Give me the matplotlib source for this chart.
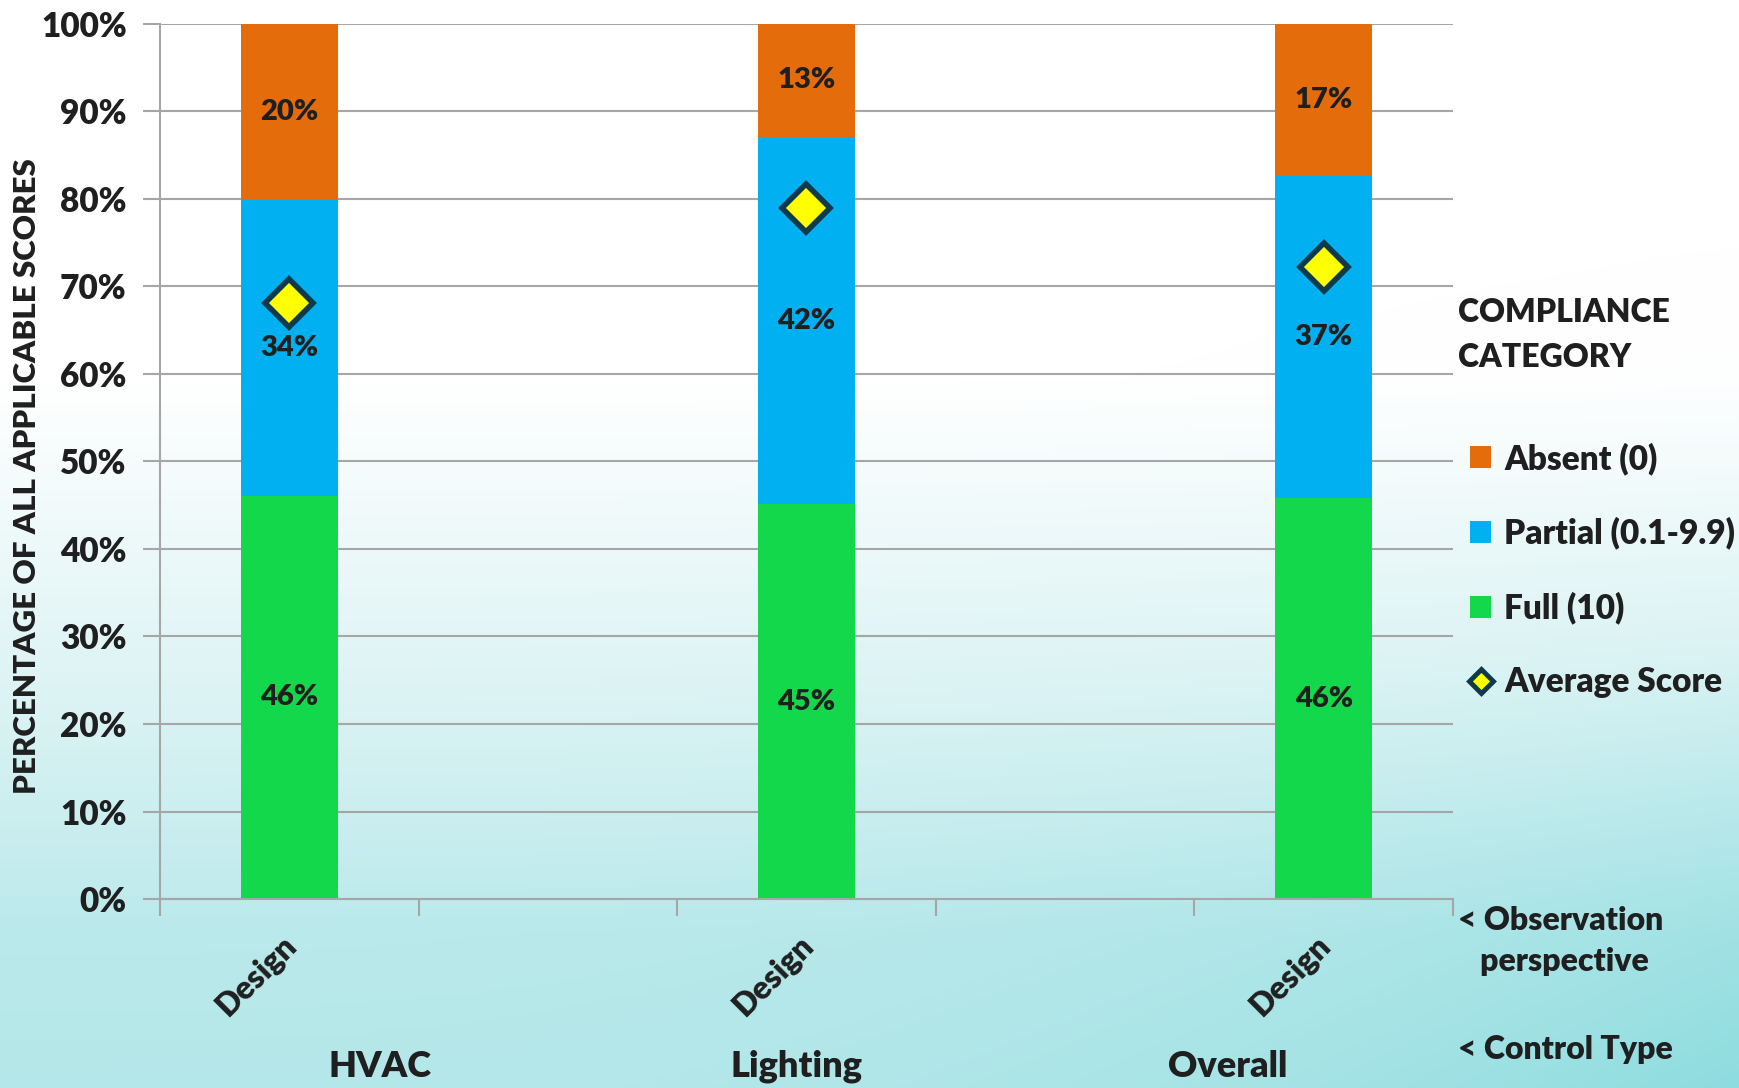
"""
Compliance category breakdown by control type (stacked percent bars).
"""

import matplotlib.pyplot as plt
import numpy as np
from matplotlib.colors import LinearSegmentedColormap
from matplotlib.lines import Line2D
from matplotlib.patches import Patch
import matplotlib.transforms as mtransforms

plt.rcParams['font.family'] = ['Lato', 'DejaVu Sans']
plt.rcParams['font.weight'] = 'heavy'
FW = 'heavy'

# Data
control_types = ['HVAC', 'Lighting', 'Overall']
perspective = ['Design', 'Design', 'Design']
full = [46.1, 45.1, 45.8]
partial = [33.8, 42.0, 36.8]
absent = [20.1, 12.9, 17.4]
full_labels = ['46%', '45%', '46%']
partial_labels = ['34%', '42%', '37%']
absent_labels = ['20%', '13%', '17%']
avg_score = [68.1, 79.0, 72.2]

text_col = '#1f1f1f'
grid_col = '#a6a6a6'

fig = plt.figure(figsize=(17.39, 10.88), dpi=100)

# gradient background over the whole figure
bg = fig.add_axes([0, 0, 1, 1], zorder=-10)
yy, xx = np.mgrid[0:1:300j, 0:1:300j]
v = np.interp(yy, [0, 0.35, 0.67, 0.86, 1.0], [0, 0, 0.4, 0.62, 0.66])
v = v + 0.34 * xx ** 3 * yy ** 3
cmap = LinearSegmentedColormap.from_list(
    'bg', [(0, '#ffffff'), (0.4, '#d8f2f3'), (0.65, '#b6e8ea'), (1.0, '#8edcdf')])
bg.imshow(v, cmap=cmap, aspect='auto', extent=[0, 1, 1, 0], vmin=0, vmax=1)
bg.set_axis_off()

ax = fig.add_axes([0.092, 0.1737, 0.7435, 0.8043])
ax.set_facecolor('none')

x = np.arange(len(control_types)) * 2
w = 0.375
full = np.array(full)
partial = np.array(partial)
absent = np.array(absent)

ax.bar(x, full, w, color='#13d84b', zorder=2)
ax.bar(x, partial, w, bottom=full, color='#00b0f0', zorder=2)
ax.bar(x, absent, w, bottom=full + partial, color='#e46c0a', zorder=2)
ax.plot(x, avg_score, linestyle='none', marker='D', markersize=24,
        markerfacecolor='#ffff00', markeredgecolor='#0e3a4c', markeredgewidth=4, zorder=4)

for i in range(len(x)):
    ax.text(x[i], full[i] / 2, full_labels[i], ha='center', va='center',
            fontsize=21, fontweight=FW, color=text_col, zorder=5)
    ax.text(x[i], full[i] + partial[i] / 2, partial_labels[i], ha='center', va='center',
            fontsize=21, fontweight=FW, color=text_col, zorder=5)
    ax.text(x[i], full[i] + partial[i] + absent[i] / 2, absent_labels[i], ha='center',
            va='center', fontsize=21, fontweight=FW, color=text_col, zorder=5)

# axes styling
ax.set_xlim(-0.5, 4.5)
ax.set_ylim(0, 100)
ax.set_yticks(np.arange(0, 101, 10))
ax.set_yticklabels([f'{v}%' for v in range(0, 101, 10)])
ax.grid(axis='y', color=grid_col, linewidth=1.5, zorder=0)
for s in ['top', 'right']:
    ax.spines[s].set_visible(False)
for s in ['left', 'bottom']:
    ax.spines[s].set_color(grid_col)
    ax.spines[s].set_linewidth(1.5)
ax.tick_params(axis='y', length=12, width=1.5, color=grid_col, labelsize=24,
               labelcolor=text_col, pad=12)
ax.set_xticks(np.arange(-0.5, 5, 1))
ax.set_xticklabels([])
ax.tick_params(axis='x', which='major', length=12, width=1.5, color=grid_col)
ax.set_xticks(x, minor=True)
ax.set_xticklabels(perspective, minor=True, rotation=45, ha='right',
                   rotation_mode='anchor', fontsize=23, color=text_col)
ax.tick_params(axis='x', which='minor', length=0, pad=24)
shift = mtransforms.ScaledTranslation(-0.08, 0.02, fig.dpi_scale_trans)
for lbl in ax.get_xticklabels(minor=True):
    lbl.set_fontweight(FW)
    lbl.set_transform(lbl.get_transform() + shift)
for lbl in ax.get_yticklabels():
    lbl.set_fontweight(FW)

ax.set_ylabel('PERCENTAGE OF ALL APPLICABLE SCORES', fontsize=22.5,
              fontweight=FW, color=text_col)
ax.yaxis.set_label_coords(-0.092, 0.483)

# control type labels under the groups
trans = mtransforms.blended_transform_factory(ax.transData, fig.transFigure)
group_x = [0.35, 1.96, 3.63]
for gx, name in zip(group_x, control_types):
    ax.text(gx, 0.02, name, transform=trans, ha='center', va='center',
            fontsize=26, fontweight=FW, color=text_col)

# legend on the right
fig.text(0.8385, 0.692, 'COMPLIANCE\nCATEGORY', ha='left', va='center',
         fontsize=23, fontweight=FW, color=text_col, linespacing=1.65)
handles = [
    Patch(facecolor='#e46c0a', label='Absent (0)'),
    Patch(facecolor='#00b0f0', label='Partial (0.1-9.9)'),
    Patch(facecolor='#13d84b', label='Full (10)'),
    Line2D([], [], linestyle='none', marker='D', markersize=12,
           markerfacecolor='#ffff00', markeredgecolor='#0e3a4c',
           markeredgewidth=3.5, label='Average Score'),
]
leg = fig.legend(handles=handles, loc='upper left', bbox_to_anchor=(0.836, 0.609),
                 frameon=False, fontsize=24, handlelength=0.62, handleheight=0.62,
                 handletextpad=0.4, labelspacing=1.26, borderpad=0)
for t_ in leg.get_texts():
    t_.set_fontweight(FW)
    t_.set_color(text_col)

fig.text(0.8385, 0.135, '< Observation\n   perspective', ha='left', va='center',
         fontsize=23, fontweight=FW, color=text_col, linespacing=1.5)
fig.text(0.8385, 0.035, '< Control Type', ha='left', va='center',
         fontsize=23, fontweight=FW, color=text_col)

plt.savefig('out.png', dpi=100)
